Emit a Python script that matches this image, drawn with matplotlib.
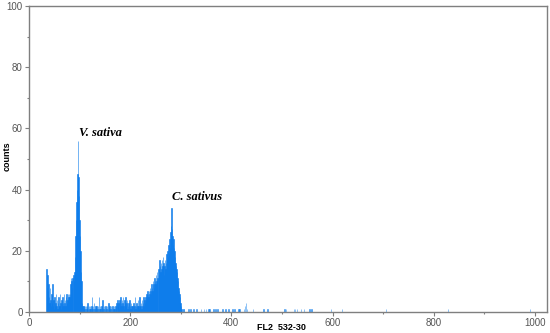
import numpy as np
import matplotlib
matplotlib.use("Agg")
import matplotlib.pyplot as plt
from matplotlib.ticker import MultipleLocator

# counts per channel, starting at channel 30
start_channel = 30
counts_main = [
    0, 0, 0, 0, 14, 8, 12, 7, 9, 5,
    3, 8, 4, 2, 6, 3, 9, 2, 4, 1,
    5, 2, 3, 6, 2, 4, 1, 3, 5, 2,
    2, 6, 3, 1, 4, 2, 5, 3, 2, 6,
    3, 4, 2, 5, 6, 3, 4, 6, 5, 6,
    5, 6, 9, 11, 10, 8, 11, 12, 10, 13,
    18, 25, 30, 36, 40, 45, 56, 44, 38, 30,
    25, 20, 13, 10, 3, 2, 1, 2, 2, 1,
    2, 0, 2, 1, 2, 3, 1, 0, 2, 1,
    2, 1, 0, 2, 5, 1, 2, 0, 3, 1,
    0, 2, 1, 2, 0, 1, 2, 0, 5, 1,
    2, 1, 0, 2, 1, 4, 0, 1, 2, 0,
    1, 2, 0, 1, 2, 0, 1, 3, 1, 2,
    0, 1, 2, 0, 1, 2, 0, 1, 2, 1,
    2, 1, 3, 0, 4, 2, 3, 1, 4, 2,
    5, 3, 2, 4, 3, 5, 2, 1, 4, 3,
    5, 2, 3, 4, 1, 2, 3, 1, 4, 2,
    1, 3, 2, 1, 2, 0, 3, 1, 2, 5,
    1, 2, 3, 1, 2, 4, 2, 1, 5, 2,
    2, 3, 1, 4, 2, 3, 5, 2, 4, 3,
    5, 4, 6, 5, 7, 6, 5, 7, 6, 8,
    7, 6, 9, 8, 7, 10, 9, 8, 11, 10,
    9, 12, 10, 13, 11, 14, 12, 17, 15, 13,
    16, 14, 17, 15, 18, 16, 12, 15, 17, 14,
    16, 19, 17, 20, 18, 22, 19, 24, 21, 26,
    28, 34, 27, 25, 22, 24, 21, 20, 18, 16,
    15, 14, 13, 11, 10, 8, 7, 6, 5, 3,
    2, 1, 0, 0, 0, 1, 0, 0, 0, 0,
]

# isolated events above the C. sativus peak
sparse_channels = [315, 319, 325, 331, 339, 345, 349, 354, 356, 364, 368, 372,
                   382, 388, 394, 402, 406, 414, 416, 424, 426, 428, 430, 442,
                   463, 471, 505, 507, 523, 525, 529, 537, 543, 554, 558, 596,
                   618, 705, 828, 990]
sparse_counts = [1, 1, 1, 1, 1, 1, 1, 1, 1, 1, 1, 1,
                 1, 1, 1, 1, 1, 1, 1, 1, 2, 3, 1, 1,
                 1, 1, 1, 1, 1, 1, 1, 1, 1, 1, 1, 1,
                 1, 1, 1, 1]

channels = np.arange(start_channel, start_channel + len(counts_main))

bar_color = "#0a7beb"
grey = "#7f7f7f"

fig = plt.figure(figsize=(5.5, 3.33), dpi=100)
ax = fig.add_axes([0.0527, 0.063, 0.942, 0.919])

ax.bar(channels, counts_main, width=1.0, color=bar_color, edgecolor=bar_color,
       linewidth=0.4, align="edge")
ax.bar(sparse_channels, sparse_counts, width=1.0, color=bar_color, edgecolor=bar_color,
       linewidth=0.4, align="edge", alpha=0.8)

ax.set_xlim(0, 1024)
ax.set_ylim(0, 100)

ax.xaxis.set_major_locator(MultipleLocator(200))
ax.xaxis.set_minor_locator(MultipleLocator(100))
ax.yaxis.set_major_locator(MultipleLocator(20))
ax.yaxis.set_minor_locator(MultipleLocator(10))

for s in ax.spines.values():
    s.set_color(grey)
    s.set_linewidth(1.0)

ax.tick_params(which="major", direction="out", length=3, width=0.8, color=grey,
               labelsize=7, labelcolor="#555555", pad=1.5)
ax.tick_params(which="minor", direction="out", length=1.5, width=0.8, color=grey)
for lab in ax.get_xticklabels() + ax.get_yticklabels():
    lab.set_family("Liberation Sans")

ax.set_ylabel("counts", fontsize=6.5, fontweight="bold", family="Liberation Sans")
ax.set_xlabel("FL2  532-30", fontsize=6.5, fontweight="bold", family="Liberation Sans")
ax.xaxis.set_label_coords(0.487, -0.035)
ax.yaxis.set_label_coords(-0.034, 0.51)

ax.text(99, 56.5, "V. sativa", fontsize=9, fontstyle="italic", fontweight="bold",
        family="Liberation Serif", ha="left", va="bottom")
ax.text(283, 35.5, "C. sativus", fontsize=9, fontstyle="italic", fontweight="bold",
        family="Liberation Serif", ha="left", va="bottom")

fig.savefig("out.png", dpi=100)
